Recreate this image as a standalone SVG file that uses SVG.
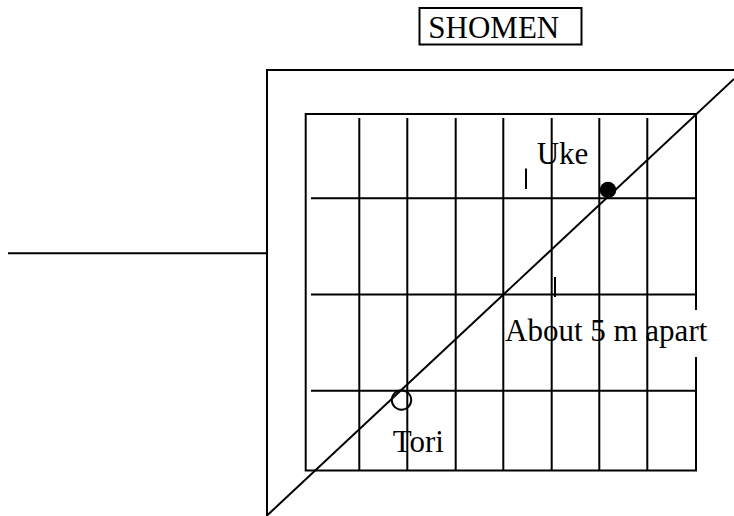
<svg xmlns="http://www.w3.org/2000/svg" width="734" height="516" viewBox="0 0 734 516">
<style>
.ln{stroke:#000;stroke-width:2;fill:none}
.t{font-family:"Liberation Serif","Times New Roman",serif;font-size:31px;fill:#000}
</style>
<rect width="734" height="516" fill="#fff"/>
<g id="shomen">
<rect x="419.5" y="8" width="162" height="36.5" class="ln"/>
<text x="428.3" y="37.5" class="t" font-size="30.5px">SHOMEN</text>
</g>
<g id="frame">
<polyline points="734,70 267,70 267,516" class="ln"/>
<line x1="8" y1="253.3" x2="267" y2="253.3" class="ln" stroke-width="2.4"/>
</g>
<g id="mat">
<polyline points="696,310 696,114 305.7,114 305.7,470.5 696,470.5 696,357" class="ln"/>
<g class="ln">
<line x1="359.3" y1="118" x2="359.3" y2="470.5"/>
<line x1="407.3" y1="118" x2="407.3" y2="470.5"/>
<line x1="455.7" y1="118" x2="455.7" y2="470.5"/>
<line x1="503.3" y1="118" x2="503.3" y2="470.5"/>
<line x1="551.7" y1="118" x2="551.7" y2="470.5"/>
<line x1="599.3" y1="118" x2="599.3" y2="470.5"/>
<line x1="647.3" y1="118" x2="647.3" y2="470.5"/>
<line x1="311" y1="198.3" x2="696" y2="198.3"/>
<line x1="311" y1="294.5" x2="696" y2="294.5"/>
<line x1="311" y1="390.7" x2="696" y2="390.7"/>
</g>
</g>
<g id="connectors">
<line x1="266.5" y1="516" x2="734" y2="79" class="ln"/>
<line x1="526" y1="168.5" x2="526" y2="189" class="ln" stroke-width="2.4"/>
<line x1="555" y1="277" x2="555" y2="297" class="ln" stroke-width="2.4"/>
</g>
<g id="uke">
<circle cx="608" cy="190" r="8.3" fill="#000"/>
<text x="536.7" y="164.3" class="t">Uke</text>
</g>
<g id="tori">
<circle cx="401.5" cy="400" r="9.7" fill="none" stroke="#000" stroke-width="2"/>
<text x="392.7" y="451.7" class="t">Tori</text>
</g>
<g id="distance">
<text x="505" y="341" class="t" font-size="32.8px">About 5 m apart</text>
</g>
</svg>
